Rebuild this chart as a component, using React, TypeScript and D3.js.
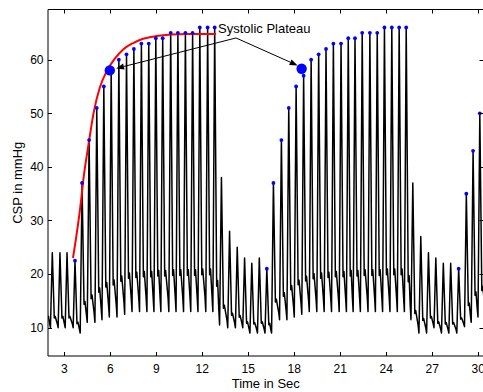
import React from 'react';
import * as d3 from 'd3';

// beat-by-beat readings (time of systolic peak, peak value, trough that follows)
const peakTimes = [1.78, 2.22, 2.72, 3.18, 3.70, 4.16, 4.62, 5.12, 5.58, 6.06, 6.56, 7.06, 7.54, 8.03, 8.51, 8.97, 9.42, 9.94, 10.41, 10.90, 11.37, 11.84, 12.35, 12.81, 13.25, 13.78, 14.28, 14.76, 15.23, 15.72, 16.21, 16.64, 17.16, 17.64, 18.12, 18.61, 19.10, 19.59, 20.07, 20.55, 21.05, 21.52, 21.96, 22.43, 22.93, 23.41, 23.88, 24.36, 24.84, 25.30, 25.73, 26.25, 26.75, 27.23, 27.72, 28.20, 28.72, 29.22, 29.66, 30.10];
const peakValues = [24, 24, 24, 24, 22.5, 37, 45, 51, 55, 58, 60, 61, 62, 63, 63, 64, 64, 65, 65, 65, 65, 66, 66, 66, 38, 28, 25, 23, 22, 23, 21, 37, 45, 51, 55, 57, 60, 61, 62, 63, 63, 64, 64, 65, 65, 65, 66, 66, 66, 66, 37, 27, 24, 23, 22, 22, 21, 35, 43, 50];
const troughValues = [10, 10, 10, 10, 9, 11, 11, 11.5, 12, 12, 12.5, 13, 13, 13, 13, 13, 13, 13, 13, 13, 13, 13, 13, 10.5, 10, 10, 10, 9, 9, 9, 9, 11.5, 11.5, 12, 12.5, 13, 13, 13, 13, 13, 13, 13, 13, 13, 13, 13, 13, 13, 13, 11.5, 9, 9, 10, 9, 9, 9, 10.2, 11, 12, 12];
// beats picked out as systolic points (blue dots)
const markedBeats = [
  4, 5, 6, 7, 8, 9, 10, 11, 12, 13, 14, 15, 16, 17, 18, 19, 20, 21, 22, 23,
  30, 31, 32, 33, 34, 35, 36, 37, 38, 39, 40, 41, 42, 43, 44, 45, 46, 47, 48, 49,
  56, 57, 58, 59,
];

// red rise curve
const fitTimes = [3.57, 4.1, 4.24, 4.6, 4.93, 5.32, 5.76, 6.3, 6.84, 7.49, 8.14, 9.0, 10.0, 11.0, 12.9];
const fitValues = [23, 33.8, 37.5, 44.5, 50.3, 54.8, 57.8, 60.2, 61.9, 63.1, 63.9, 64.4, 64.7, 64.8, 64.8];

// plateau onset markers
const plateauTimes = [5.97, 18.48];
const plateauValues = [58.0, 58.3];

const xTicks = [3, 6, 9, 12, 15, 18, 21, 24, 27, 30];
const yTicks = [10, 20, 30, 40, 50, 60];

const W = 483;
const H = 392;
const L = 48, R = 483.5, T = 9.5, B = 356;
const FONT = "Arial, 'Liberation Sans', sans-serif";
// pulse shape (seconds / fraction of pulse height)
const UP = 0.12;
const NOTCH_DT = 0.13, NOTCH_LV = 0.13;
const BUMP_DT = 0.19, BUMP_LV = 0.15;
const DROP_DT = 0.05, DROP_LV = 0.05; // before next upstroke

export default function App() {
  const x = d3.scaleLinear().domain([1.94, 30.34]).range([L, R]);
  const y = d3.scaleLinear().domain([4.72, 69.36]).range([B, T]);

  const pts: [number, number][] = [];
  peakTimes.forEach((p, i) => {
    const P = peakValues[i];
    const Tn = troughValues[i];
    if (i > 0) pts.push([p - UP, troughValues[i - 1]]);
    pts.push([p, P]);
    pts.push([p + NOTCH_DT, Tn + NOTCH_LV * (P - Tn)]);
    pts.push([p + BUMP_DT, Tn + BUMP_LV * (P - Tn)]);
    if (i + 1 < peakTimes.length) {
      pts.push([peakTimes[i + 1] - UP - DROP_DT, Tn + DROP_LV * (P - Tn)]);
    }
  });
  pts.push([peakTimes[peakTimes.length - 1] + 0.4, troughValues[troughValues.length - 1]]);
  const wave = d3.line<[number, number]>().x(d => x(d[0])).y(d => y(d[1]))(pts) || '';

  const fit = d3.line<number>()
    .x((_, i) => x(fitTimes[i]))
    .y(d => y(d))
    .curve(d3.curveMonotoneX)(fitValues) || '';

  // annotation, in data units
  const textAt = { t: 13.03, v: 64.93 };
  const from = { t: 14.2, v: 64.05 };
  const targets = [{ t: 6.38, v: 58.36 }, { t: 18.22, v: 58.92 }];

  const arrow = (tg: { t: number; v: number }, k: number) => {
    const x0 = x(from.t), y0 = y(from.v), x1 = x(tg.t), y1 = y(tg.v);
    const len = Math.hypot(x1 - x0, y1 - y0);
    const ux = (x1 - x0) / len, uy = (y1 - y0) / len;
    const hl = 8, hw = 3;
    const bx = x1 - ux * hl, by = y1 - uy * hl;
    const head = `${x1},${y1} ${bx - uy * hw},${by + ux * hw} ${bx + uy * hw},${by - ux * hw}`;
    return (
      <g key={k}>
        <line x1={x0} y1={y0} x2={bx} y2={by} stroke="#000" strokeWidth={1} />
        <polygon points={head} fill="#000" />
      </g>
    );
  };

  return (
    <svg width={W} height={H} style={{ position: 'absolute', left: 0, top: 0, background: '#fff' }}
      fontFamily={FONT}>
      <defs>
        <clipPath id="plot">
          <rect x={L} y={T} width={R - L} height={B - T} />
        </clipPath>
      </defs>
      <rect x={0} y={0} width={W} height={H} fill="#fff" />

      <g clipPath="url(#plot)">
        <path d={wave} fill="none" stroke="#000" strokeWidth={1.5} strokeLinejoin="round" />
        <path d={fit} fill="none" stroke="#ff0000" strokeWidth={2} />
        {markedBeats.map(i => (
          <circle key={i} cx={x(peakTimes[i])} cy={y(peakValues[i])} r={1.9} fill="#0000ff" />
        ))}
        {plateauTimes.map((t, i) => (
          <circle key={'p' + i} cx={x(t)} cy={y(plateauValues[i])} r={5.2} fill="#0000ff" />
        ))}
      </g>

      {targets.map(arrow)}
      <text x={x(textAt.t)} y={y(textAt.v)} fontSize={13} fill="#000">Systolic Plateau</text>

      {/* axes box */}
      <g stroke="#000" strokeWidth={1} fill="none">
        <line x1={L} y1={T} x2={R} y2={T} />
        <line x1={L} y1={T} x2={L} y2={B} />
        <line x1={L} y1={B} x2={R} y2={B} />
        <line x1={R} y1={T} x2={R} y2={B} />
        {xTicks.map(t => {
          const px = Math.round(x(t)) + 0.5;
          return (
            <g key={'xt' + t}>
              <line x1={px} y1={B} x2={px} y2={B - 4} />
              <line x1={px} y1={T} x2={px} y2={T + 4} />
            </g>
          );
        })}
        {yTicks.map(v => {
          const py = Math.round(y(v)) + 0.5;
          return (
            <g key={'yt' + v}>
              <line x1={L} y1={py} x2={L + 4} y2={py} />
              <line x1={R} y1={py} x2={R - 4} y2={py} />
            </g>
          );
        })}
      </g>
      {xTicks.map(t => (
        <text key={'xl' + t} x={x(t)} y={372.5} fontSize={12} textAnchor="middle">{t}</text>
      ))}
      {yTicks.map(v => (
        <text key={'yl' + v} x={43.5} y={y(v) + 4.3} fontSize={12} textAnchor="end">{v}</text>
      ))}
      <text x={(L + R) / 2} y={388} fontSize={13} textAnchor="middle">Time in Sec</text>
      <text transform={`translate(21.5,${(T + B) / 2}) rotate(-90)`} fontSize={13} textAnchor="middle">CSP in mmHg</text>
    </svg>
  );
}
